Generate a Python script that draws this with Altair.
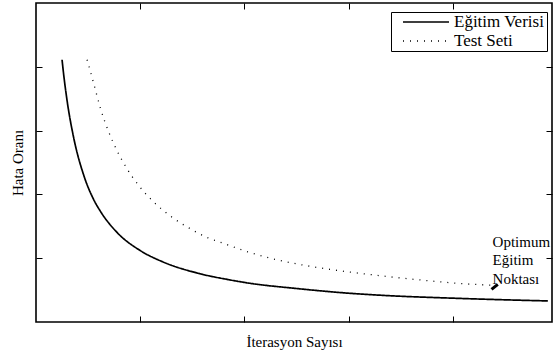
import altair as alt
import pandas as pd

series_names = ["Eğitim Verisi", "Test Seti"]

train_x = [0.25, 0.264, 0.30, 0.36, 0.46, 0.55, 0.62, 0.78, 1.0, 1.22, 1.54, 1.86, 2.0, 2.53, 3.01, 3.30, 4.06, 4.91]
train_y = [4.11, 3.90, 3.45, 2.90, 2.29, 1.93, 1.73, 1.40, 1.12, 0.94, 0.77, 0.66, 0.62, 0.52, 0.45, 0.42, 0.37, 0.33]

test_x = [0.49, 0.55, 0.62, 0.69, 0.77, 0.87, 0.99, 1.13, 1.29, 1.46, 1.65, 1.77, 2.03, 2.30, 2.57, 2.84, 3.12, 3.25, 3.68, 4.02, 4.45]
test_y = [4.11, 3.76, 3.34, 3.01, 2.71, 2.41, 2.13, 1.88, 1.66, 1.48, 1.32, 1.25, 1.10, 0.98, 0.89, 0.82, 0.76, 0.735, 0.66, 0.61, 0.57]

tick_values = [1, 2, 3, 4]
x_domain = [0, 4.95]
y_domain = [0, 5]

annot_lines = ["Optimum", "Eğitim", "Noktası"]
annot_pos = {"x": 4.38, "y": 1.365}
arrow = {"x": 4.43, "y": 0.59, "x2": 4.37, "y2": 0.51}

FONT = "Liberation Serif"

df = pd.concat([
    pd.DataFrame({"x": train_x, "y": train_y, "s": series_names[0], "o": range(len(train_x))}),
    pd.DataFrame({"x": test_x, "y": test_y, "s": series_names[1], "o": range(len(test_x))}),
])

xs = alt.Scale(domain=x_domain, nice=False, zero=False)
ys = alt.Scale(domain=y_domain, nice=False, zero=False)

axis_common = dict(values=tick_values, labels=False, domain=False, grid=False,
                   ticks=True, tickSize=6, offset=-6, tickColor="black", tickWidth=1)

lines = alt.Chart(df).mark_line(color="black", interpolate="monotone").encode(
    x=alt.X("x:Q", scale=xs, axis=alt.Axis(title="İterasyon Sayısı", orient="bottom",
                                              titlePadding=12, **axis_common)),
    y=alt.Y("y:Q", scale=ys, axis=alt.Axis(title="Hata Oranı", orient="left",
                                              titlePadding=10, **axis_common)),
    strokeDash=alt.StrokeDash("s:N", scale=alt.Scale(domain=series_names, range=[[1, 0], [1, 6]]),
                              legend=alt.Legend(title=None)),
    strokeWidth=alt.StrokeWidth("s:N", scale=alt.Scale(domain=series_names, range=[1.7, 1.3]),
                                legend=None),
    order="o:Q",
)

annot_df = pd.DataFrame([{"x": annot_pos["x"], "y": annot_pos["y"]}])
annot = alt.Chart(annot_df).mark_text(
    text=annot_lines, align="left", baseline="top", font=FONT, fontSize=15,
    lineHeight=18.5, color="black"
).encode(
    x=alt.X("x:Q", scale=xs, axis=alt.Axis(title=None, orient="top", **axis_common)),
    y=alt.Y("y:Q", scale=ys, axis=alt.Axis(title=None, orient="right", **axis_common)),
)

arrow_df = pd.DataFrame([arrow])
arr = alt.Chart(arrow_df).mark_rule(color="black", strokeWidth=3).encode(
    x=alt.X("x:Q", scale=xs, axis=None),
    y=alt.Y("y:Q", scale=ys, axis=None),
    x2="x2:Q",
    y2="y2:Q",
)

chart = alt.layer(lines, annot, arr).resolve_axis(x="independent", y="independent").properties(
    width=516, height=319,
    padding={"left": 36, "top": 3, "right": 2, "bottom": 36},
    autosize=alt.AutoSizeParams(type="none"),
    background="white",
).configure_view(
    stroke="black", strokeWidth=1.6
).configure_axis(
    titleFont=FONT, titleFontSize=15, titleFontWeight="normal", titleColor="black"
).configure_legend(
    orient="none", legendX=355, legendY=9, padding=2,
    strokeColor="black", fillColor="white", cornerRadius=0,
    labelFont=FONT, labelFontSize=17, labelColor="black", labelOffset=4,
    symbolType="stroke", symbolStrokeColor="black", symbolStrokeWidth=1.5,
    symbolSize=2116, symbolOffset=9, clipHeight=16, rowPadding=2,
)

chart.save("out.html", embed_options={"renderer": "svg", "actions": False})
